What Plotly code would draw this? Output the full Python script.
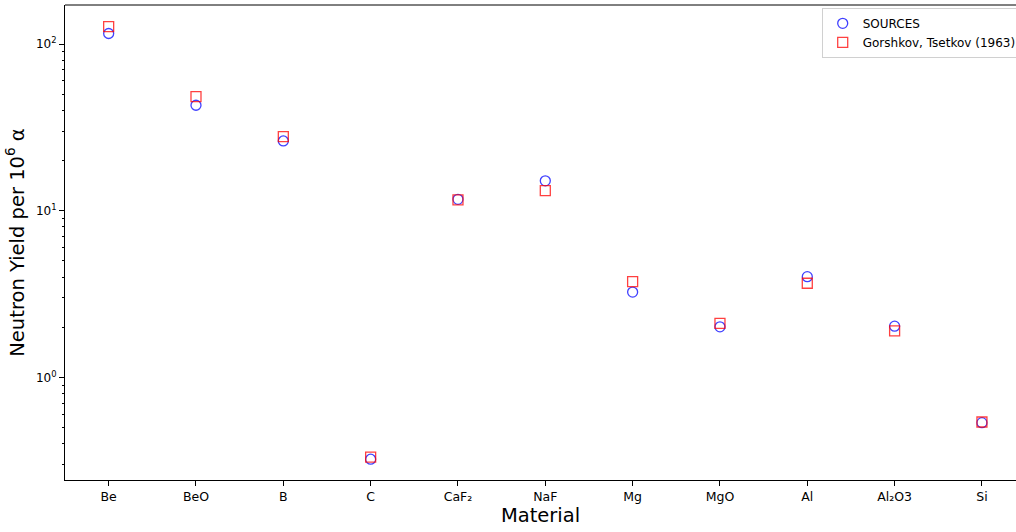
import plotly.graph_objects as go

materials = ["Be", "BeO", "B", "C", "CaF₂", "NaF", "Mg", "MgO", "Al", "Al₂O3", "Si"]
sources_yield = [115.6, 42.9, 26.2, 0.323, 11.7, 15.1, 3.25, 2.01, 4.02, 2.03, 0.535]
gorshkov_yield = [127, 48.3, 27.8, 0.332, 11.6, 13.2, 3.75, 2.11, 3.67, 1.90, 0.540]

y_tickvals = [1, 10, 100]
y_ticktext = ["10<sup>0</sup>", "10<sup>1</sup>", "10<sup>2</sup>"]

fig = go.Figure()
fig.add_trace(go.Scatter(
    x=materials, y=sources_yield, mode="markers", name="SOURCES",
    marker=dict(symbol="circle-open", size=10, color="rgba(0,0,255,0.75)",
                line=dict(width=1.3, color="rgba(0,0,255,0.75)")),
))
fig.add_trace(go.Scatter(
    x=materials, y=gorshkov_yield, mode="markers", name="Gorshkov, Tsetkov (1963)",
    marker=dict(symbol="square-open", size=10, color="rgba(255,0,0,0.75)",
                line=dict(width=1.3, color="rgba(255,0,0,0.75)")),
))

fig.update_layout(
    width=1016, height=532,
    margin=dict(l=65, r=0, t=5, b=52, autoexpand=False),
    paper_bgcolor="white", plot_bgcolor="white",
    font=dict(family="DejaVu Sans", color="black", size=12),
    showlegend=True,
    legend=dict(
        x=1.006, y=0.994, xanchor="right", yanchor="top",
        bgcolor="white", bordercolor="#d0d0d0", borderwidth=1,
        font=dict(size=12, family="DejaVu Sans"),
        tracegroupgap=0,
    ),
    shapes=[dict(type="line", xref="paper", yref="paper", x0=0, x1=1, y0=1, y1=1,
                 line=dict(color="black", width=1), layer="above")],
)
fig.update_xaxes(
    type="category", range=[-0.5, 10.39],
    showline=True, linecolor="black", linewidth=1, mirror=False,
    ticks="outside", ticklen=5, tickcolor="black", tickwidth=1,
    showgrid=False, zeroline=False, automargin=False,
    tickfont=dict(size=12.5),
    title=dict(text="Material", font=dict(size=19.5), standoff=5),
)
fig.update_yaxes(
    type="log", range=[-0.6155, 2.234],
    showline=True, linecolor="black", linewidth=1, mirror=False,
    tickvals=y_tickvals, ticktext=y_ticktext,
    ticks="outside", ticklen=5, tickcolor="black", tickwidth=1,
    minor=dict(ticks="outside", ticklen=2.5, tickcolor="black", tickwidth=0.8, showgrid=False,
               tickvals=[0.3, 0.4, 0.5, 0.6, 0.7, 0.8, 0.9, 2, 3, 4, 5, 6, 7, 8, 9,
                         20, 30, 40, 50, 60, 70, 80, 90, 200, 300, 400, 500]),
    showgrid=False, zeroline=False, automargin=False,
    tickfont=dict(size=12),
    title=dict(text="Neutron Yield per 10<sup>6</sup> α", font=dict(size=19.5), standoff=6),
)

fig.write_html(
    "out.html",
    config={"displayModeBar": False},
    post_script="document.body.style.margin='0';document.body.style.overflow='hidden';document.documentElement.style.overflow='hidden';",
)
